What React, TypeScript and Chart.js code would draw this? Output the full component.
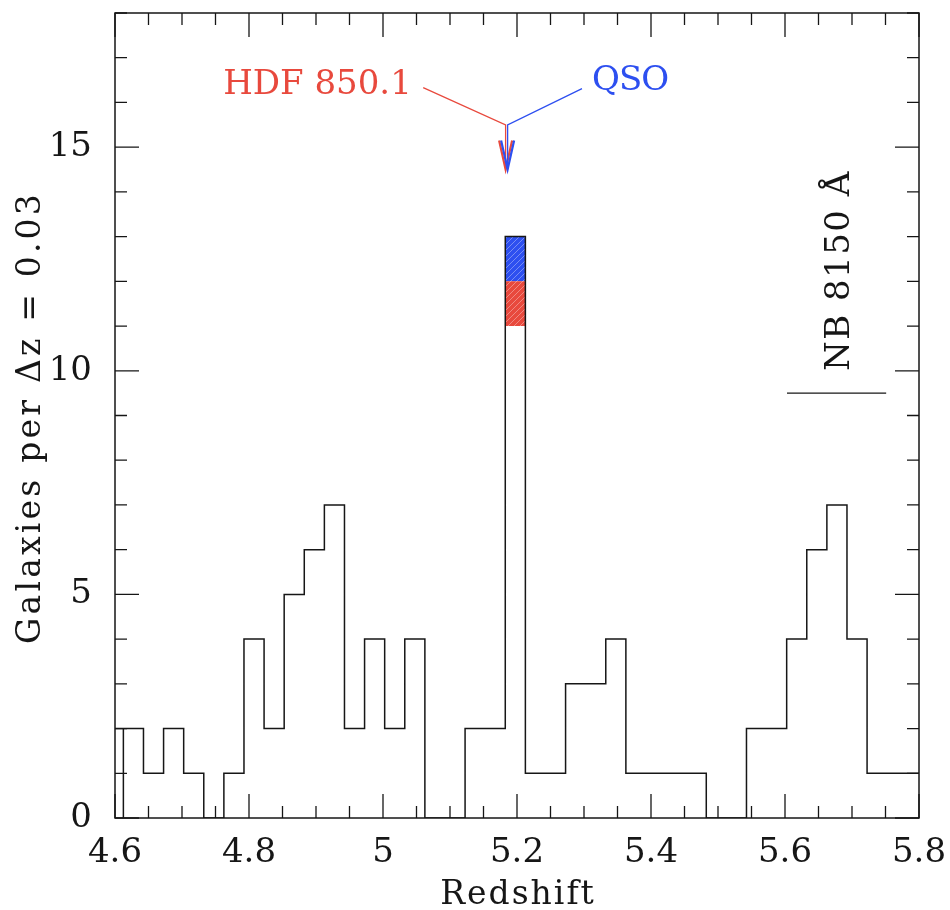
import React, { useEffect, useRef } from 'react';
import { Chart, registerables } from 'chart.js';

Chart.register(...registerables);

// ---- data ----
const binStart = 4.5825; // left edge of the first (partially visible) bin
const binWidth = 0.03;
const counts = [
  2, 2, 1, 2, 1, 0, 1, 4, 2, 5, 6, 7, 2, 4, 2, 4, 0, 0, 2, 2, 13,
  1, 1, 3, 3, 4, 1, 1, 1, 1, 0, 0, 2, 2, 4, 6, 7, 4, 1, 1, 1,
];
const firstEdgeZ = 4.6125; // histogram outline rises from zero here
const peakBinZ = 5.1825;
const hdfRange = [11, 12];
const qsoRange = [12, 13];

const hdfZ = 5.183;
const qsoZ = 5.186;
const arrowTopY = 15.5;
const arrowTipY = 14.5;
const hdfLineEnd = [5.06, 16.33];
const qsoLineEnd = [5.297, 16.31];
const hdfLabel = 'HDF 850.1';
const hdfLabelPos = [5.043, 16.2];
const qsoLabel = 'QSO';
const qsoLabelPos = [5.312, 16.28];

const nbRange = [5.603, 5.751];
const nbY = 9.5;
const nbLabel = 'NB 8150 Å';
const nbLabelPos = [5.683, 12.24];

const xTicks = [4.6, 4.8, 5, 5.2, 5.4, 5.6, 5.8];
const yTicks = [0, 5, 10, 15];
const xRange = [4.6, 5.8];
const yRange = [0, 18];
const xMinorStep = 0.05;
const xMajorStep = 0.2;
const yMinorStep = 1;
const yMajorStep = 5;

const xTitle = 'Redshift';
const yTitle = 'Galaxies per \u0394z = 0.03';

const RED = '#e8493d';
const BLUE = '#2d4ff0';
const INK = '#161616';
const FONT = '"DejaVu Serif", serif';

function makeHatch(ctx: CanvasRenderingContext2D, color: string) {
  const c = document.createElement('canvas');
  c.width = 6;
  c.height = 6;
  const g = c.getContext('2d')!;
  g.fillStyle = color;
  g.fillRect(0, 0, 6, 6);
  g.strokeStyle = 'rgba(255,255,255,0.35)';
  g.lineWidth = 1;
  g.beginPath();
  g.moveTo(-1, 7);
  g.lineTo(7, -1);
  g.stroke();
  return ctx.createPattern(c, 'repeat')!;
}

const decorPlugin = {
  id: 'decor',
  afterDraw(chart: any) {
    const { ctx, chartArea } = chart;
    const xs = chart.scales.x;
    const ys = chart.scales.y;
    const px = (v: number) => xs.getPixelForValue(v);
    const py = (v: number) => ys.getPixelForValue(v);
    const { left, right, top, bottom } = chartArea;
    ctx.save();
    // frame
    ctx.strokeStyle = INK;
    ctx.lineWidth = 1.5;
    ctx.strokeRect(left, top, right - left, bottom - top);
    // ticks x
    ctx.lineWidth = 1.3;
    const nx = Math.round((xRange[1] - xRange[0]) / xMinorStep);
    for (let i = 0; i <= nx; i++) {
      const v = xRange[0] + i * xMinorStep;
      const r = (v - xRange[0]) / xMajorStep;
      const major = Math.abs(r - Math.round(r)) < 1e-6;
      const len = major ? 24 : 12;
      const x = px(v);
      ctx.beginPath();
      ctx.moveTo(x, bottom);
      ctx.lineTo(x, bottom - len);
      ctx.moveTo(x, top);
      ctx.lineTo(x, top + len);
      ctx.stroke();
    }
    const ny = Math.round((yRange[1] - yRange[0]) / yMinorStep);
    for (let i = 0; i <= ny; i++) {
      const v = yRange[0] + i * yMinorStep;
      const r = (v - yRange[0]) / yMajorStep;
      const major = Math.abs(r - Math.round(r)) < 1e-6;
      const len = major ? 24 : 12;
      const y = py(v);
      ctx.beginPath();
      ctx.moveTo(left, y);
      ctx.lineTo(left + len, y);
      ctx.moveTo(right, y);
      ctx.lineTo(right - len, y);
      ctx.stroke();
    }

    // arrows
    const drawArrow = (z: number, end: number[], color: string) => {
      ctx.strokeStyle = color;
      ctx.lineWidth = 1.3;
      ctx.beginPath();
      ctx.moveTo(px(end[0]), py(end[1]));
      ctx.lineTo(px(z), py(arrowTopY));
      ctx.lineTo(px(z), py(arrowTipY));
      ctx.stroke();
      const tx = px(z);
      const ty = py(arrowTipY);
      ctx.lineWidth = 2.2;
      ctx.beginPath();
      ctx.moveTo(tx - 6.5, ty - 29);
      ctx.lineTo(tx, ty);
      ctx.lineTo(tx + 6.5, ty - 29);
      ctx.stroke();
    };
    drawArrow(hdfZ, hdfLineEnd, RED);
    drawArrow(qsoZ, qsoLineEnd, BLUE);

    ctx.font = `34px ${FONT}`;
    ctx.textBaseline = 'alphabetic';
    ctx.fillStyle = RED;
    ctx.textAlign = 'right';
    ctx.fillText(hdfLabel, px(hdfLabelPos[0]), py(hdfLabelPos[1]));
    ctx.fillStyle = BLUE;
    ctx.textAlign = 'left';
    ctx.letterSpacing = '-1px';
    ctx.fillText(qsoLabel, px(qsoLabelPos[0]), py(qsoLabelPos[1]));

    // NB filter
    ctx.strokeStyle = INK;
    ctx.lineWidth = 1.3;
    ctx.beginPath();
    ctx.moveTo(px(nbRange[0]), py(nbY));
    ctx.lineTo(px(nbRange[1]), py(nbY));
    ctx.stroke();
    ctx.save();
    ctx.translate(px(nbLabelPos[0]), py(nbLabelPos[1]));
    ctx.rotate(-Math.PI / 2);
    ctx.fillStyle = INK;
    ctx.textAlign = 'center';
    ctx.textBaseline = 'middle';
    ctx.letterSpacing = '1.5px';
    ctx.fillText(nbLabel, 0, 0);
    ctx.restore();

    // axis titles
    ctx.fillStyle = INK;
    ctx.font = `33px ${FONT}`;
    ctx.textAlign = 'center';
    ctx.textBaseline = 'middle';
    ctx.letterSpacing = '2px';
    ctx.fillText(xTitle, (left + right) / 2 + 1, 895.5);
    ctx.save();
    ctx.translate(31.5, (top + bottom) / 2 + 2);
    ctx.rotate(-Math.PI / 2);
    ctx.letterSpacing = '3.2px';
    ctx.fillText(yTitle, 0, 0);
    ctx.restore();
    ctx.restore();
  },
};

export default function App() {
  const ref = useRef<HTMLCanvasElement | null>(null);
  useEffect(() => {
    const canvas = ref.current!;
    const ctx = canvas.getContext('2d')!;
    const histPoints = counts.map((c, i) => ({ x: binStart + i * binWidth, y: c }));
    histPoints.push({ x: binStart + counts.length * binWidth, y: counts[counts.length - 1] });
    const redFill = makeHatch(ctx, RED);
    const blueFill = makeHatch(ctx, BLUE);
    const zeroPad = (s: any) => {
      s.paddingTop = 0;
      s.paddingBottom = 0;
      s.paddingLeft = 0;
      s.paddingRight = 0;
    };
    const chart = new Chart(ctx, {
      type: 'line',
      data: {
        datasets: [
          {
            data: histPoints,
            stepped: true,
            borderColor: INK,
            borderWidth: 1.5,
            pointRadius: 0,
            fill: false,
          },
          {
            data: [
              { x: firstEdgeZ, y: 0 },
              { x: firstEdgeZ, y: counts[1] },
            ],
            borderColor: INK,
            borderWidth: 1.5,
            pointRadius: 0,
            fill: false,
          },
          {
            data: [
              { x: peakBinZ, y: hdfRange[1] },
              { x: peakBinZ + binWidth, y: hdfRange[1] },
            ],
            borderWidth: 0,
            borderColor: 'rgba(0,0,0,0)',
            backgroundColor: redFill,
            pointRadius: 0,
            fill: { value: hdfRange[0] },
          },
          {
            data: [
              { x: peakBinZ, y: qsoRange[1] },
              { x: peakBinZ + binWidth, y: qsoRange[1] },
            ],
            borderWidth: 0,
            borderColor: 'rgba(0,0,0,0)',
            backgroundColor: blueFill,
            pointRadius: 0,
            fill: { value: qsoRange[0] },
          },
        ],
      } as any,
      options: {
        animation: false,
        responsive: false,
        devicePixelRatio: 1,
        layout: { padding: { left: 0, right: 31, top: 13, bottom: 0 } },
        plugins: { legend: { display: false }, tooltip: { enabled: false } },
        scales: {
          x: {
            type: 'linear',
            min: xRange[0],
            max: xRange[1],
            grid: { display: false, drawTicks: false },
            border: { display: false },
            ticks: {
              autoSkip: false,
              maxRotation: 0,
              padding: 15,
              color: INK,
              font: { family: FONT, size: 34 },
              callback: (v: any) => String(Math.round(v * 10) / 10),
            },
            afterBuildTicks: (s: any) => {
              s.ticks = xTicks.map((v) => ({ value: v }));
            },
            afterFit: (s: any) => {
              s.height = 92;
              zeroPad(s);
            },
            title: { display: false, text: xTitle },
          },
          y: {
            type: 'linear',
            min: yRange[0],
            max: yRange[1],
            grid: { display: false, drawTicks: false },
            border: { display: false },
            ticks: {
              autoSkip: false,
              padding: 23,
              color: INK,
              font: { family: FONT, size: 34 },
              callback: (v: any) => String(v),
            },
            afterBuildTicks: (s: any) => {
              s.ticks = yTicks.map((v) => ({ value: v }));
            },
            afterFit: (s: any) => {
              s.width = 115;
              zeroPad(s);
            },
            title: { display: false, text: yTitle },
          },
        },
      } as any,
      plugins: [decorPlugin],
    });
    return () => chart.destroy();
  }, []);
  return (
    <div style={{ position: 'absolute', left: 0, top: 0, width: 950, height: 910, background: '#fff' }}>
      <canvas ref={ref} width={950} height={910} style={{ display: 'block', width: 950, height: 910 }} />
    </div>
  );
}
